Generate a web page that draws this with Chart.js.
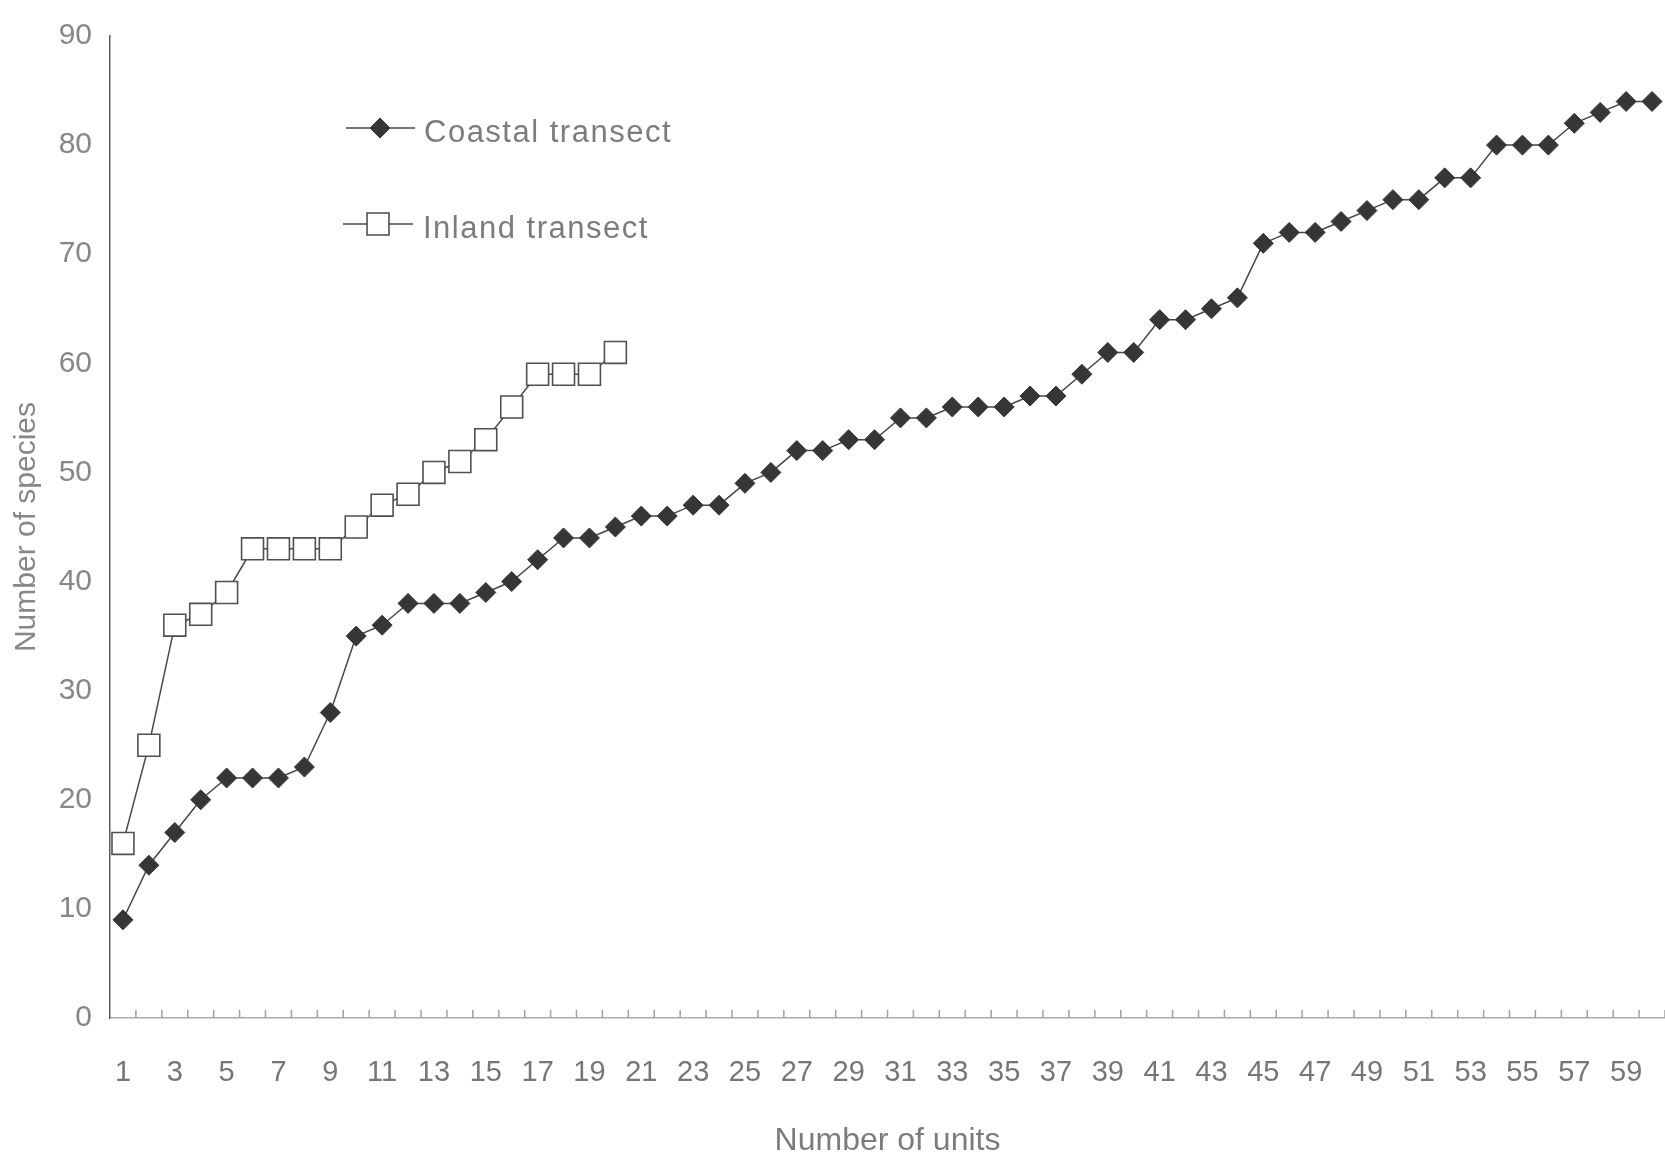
<!DOCTYPE html>
<html>
<head>
<meta charset="utf-8">
<title>Species accumulation</title>
<script src="https://cdn.jsdelivr.net/npm/chart.js@4/dist/chart.umd.min.js"></script>
<style>
  html, body { margin: 0; padding: 0; background: #ffffff; }
  #wrap { width: 1665px; height: 1163px; position: relative; }
  canvas { display: block; }
</style>
</head>
<body>
<div id="wrap"><canvas id="chart" width="1665" height="1163"></canvas></div>
<script>
// Sampling units along each transect
const units = [1, 2, 3, 4, 5, 6, 7, 8, 9, 10, 11, 12, 13, 14, 15, 16, 17, 18, 19, 20,
               21, 22, 23, 24, 25, 26, 27, 28, 29, 30, 31, 32, 33, 34, 35, 36, 37, 38, 39, 40,
               41, 42, 43, 44, 45, 46, 47, 48, 49, 50, 51, 52, 53, 54, 55, 56, 57, 58, 59, 60];

// Cumulative number of species recorded
const coastal = [9, 14, 17, 20, 22, 22, 22, 23, 28, 35, 36, 38, 38, 38, 39, 40, 42, 44, 44, 45,
                 46, 46, 47, 47, 49, 50, 52, 52, 53, 53, 55, 55, 56, 56, 56, 57, 57, 59, 61, 61,
                 64, 64, 65, 66, 71, 72, 72, 73, 74, 75, 75, 77, 77, 80, 80, 80, 82, 83, 84, 84];
const inland = [16, 25, 36, 37, 39, 43, 43, 43, 43, 45, 47, 48, 50, 51, 53, 56, 59, 59, 59, 61];

// Axis tick labels
const xTickLabels = [1, 3, 5, 7, 9, 11, 13, 15, 17, 19, 21, 23, 25, 27, 29,
                     31, 33, 35, 37, 39, 41, 43, 45, 47, 49, 51, 53, 55, 57, 59];
const yTickLabels = [0, 10, 20, 30, 40, 50, 60, 70, 80, 90];

const seriesNames = ['Coastal transect', 'Inland transect'];

const FONT = '"Liberation Sans", Arial, sans-serif';
const NARROW = '"Liberation Sans Narrow", "Liberation Sans", Arial, sans-serif';
Chart.defaults.font.family = FONT;

// Small upward ticks between the units, along the x axis
const unitTicks = {
  id: 'unitTicks',
  afterDraw(chart) {
    const xs = chart.scales.x;
    const base = chart.chartArea.bottom;
    const ctx = chart.ctx;
    ctx.save();
    ctx.strokeStyle = '#a0a0a0';
    ctx.lineWidth = 1.5;
    units.forEach(u => {
      const px = xs.getPixelForValue(u + 0.5);
      ctx.beginPath();
      ctx.moveTo(px, base);
      ctx.lineTo(px, base - 8);
      ctx.stroke();
    });
    ctx.restore();
  }
};

// Legend drawn inside the plot area, one row per series
const innerLegend = {
  id: 'innerLegend',
  afterDatasetsDraw(chart, args, opts) {
    const ctx = chart.ctx;
    opts.items.forEach((it, i) => {
      const ds = chart.data.datasets[i];
      ctx.save();
      ctx.strokeStyle = ds.borderColor;
      ctx.lineWidth = ds.borderWidth;
      ctx.beginPath();
      ctx.moveTo(it.x1, it.y);
      ctx.lineTo(it.x2, it.y);
      ctx.stroke();
      ctx.fillStyle = ds.pointBackgroundColor;
      ctx.strokeStyle = ds.pointBorderColor;
      ctx.lineWidth = ds.pointBorderWidth;
      Chart.helpers.drawPoint(ctx, {
        pointStyle: ds.pointStyle, radius: it.r, rotation: 0, borderWidth: ds.pointBorderWidth
      }, it.mx, it.y);
      ctx.fillStyle = opts.color;
      ctx.font = opts.font;
      if ('letterSpacing' in ctx) ctx.letterSpacing = opts.spacing;
      ctx.textAlign = 'left';
      ctx.textBaseline = 'middle';
      ctx.fillText(ds.label, it.tx, it.ty);
      ctx.restore();
    });
  }
};

new Chart(document.getElementById('chart').getContext('2d'), {
  type: 'line',
  data: {
    datasets: [
      {
        label: seriesNames[0],
        data: coastal.map((v, i) => ({ x: units[i], y: v })),
        borderColor: '#464646',
        borderWidth: 1.5,
        pointStyle: 'rectRot',
        pointRadius: 10,
        pointBackgroundColor: '#363636',
        pointBorderColor: '#363636',
        pointBorderWidth: 1,
        tension: 0,
        fill: false,
        clip: false
      },
      {
        label: seriesNames[1],
        data: inland.map((v, i) => ({ x: units[i], y: v })),
        borderColor: '#4a4a4a',
        borderWidth: 1.5,
        pointStyle: 'rect',
        pointRadius: 15.5,
        pointBackgroundColor: '#ffffff',
        pointBorderColor: '#505050',
        pointBorderWidth: 1.6,
        tension: 0,
        fill: false,
        clip: false
      }
    ]
  },
  options: {
    responsive: false,
    animation: false,
    events: [],
    layout: { autoPadding: false, padding: { top: 28, left: 0, right: 0, bottom: 3 } },
    plugins: {
      legend: { display: false },
      tooltip: { enabled: false },
      innerLegend: {
        color: '#7c7c7c',
        font: '31px ' + FONT,
        spacing: '1.5px',
        items: [
          { x1: 346, x2: 415, mx: 380, y: 128, r: 10, tx: 424, ty: 133 },
          { x1: 343, x2: 413, mx: 378, y: 224, r: 15.5, tx: 423, ty: 229 }
        ]
      }
    },
    scales: {
      x: {
        type: 'linear',
        min: 0.5,
        max: 60.5,
        afterBuildTicks: s => { s.ticks = xTickLabels.map(v => ({ value: v })); },
        afterFit: s => { s.height = 142; },
        grid: {
          display: true,
          drawOnChartArea: false,
          drawTicks: true,
          tickLength: 38,
          tickColor: 'rgba(0,0,0,0)'
        },
        border: { display: true, color: '#ababab', width: 1.5 },
        ticks: {
          autoSkip: false,
          maxRotation: 0,
          padding: 0,
          color: '#767676',
          font: { family: NARROW, size: 29 }
        },
        title: {
          display: true,
          text: 'Number of units',
          color: '#7c7c7c',
          font: { family: FONT, size: 32 },
          padding: { top: 0, bottom: 0 }
        }
      },
      y: {
        min: 0,
        max: 90,
        afterBuildTicks: s => { s.ticks = yTickLabels.map(v => ({ value: v })); },
        afterFit: s => { s.width = 110; },
        grid: { display: false, drawTicks: false },
        border: { display: true, color: '#5a5a5a', width: 1.5 },
        ticks: {
          padding: 18,
          color: '#878787',
          font: { family: FONT, size: 30 }
        },
        title: {
          display: true,
          text: 'Number of species',
          color: '#878787',
          font: { family: FONT, size: 30 },
          padding: { top: 9, bottom: 0 }
        }
      }
    }
  },
  plugins: [unitTicks, innerLegend]
});
</script>
</body>
</html>
